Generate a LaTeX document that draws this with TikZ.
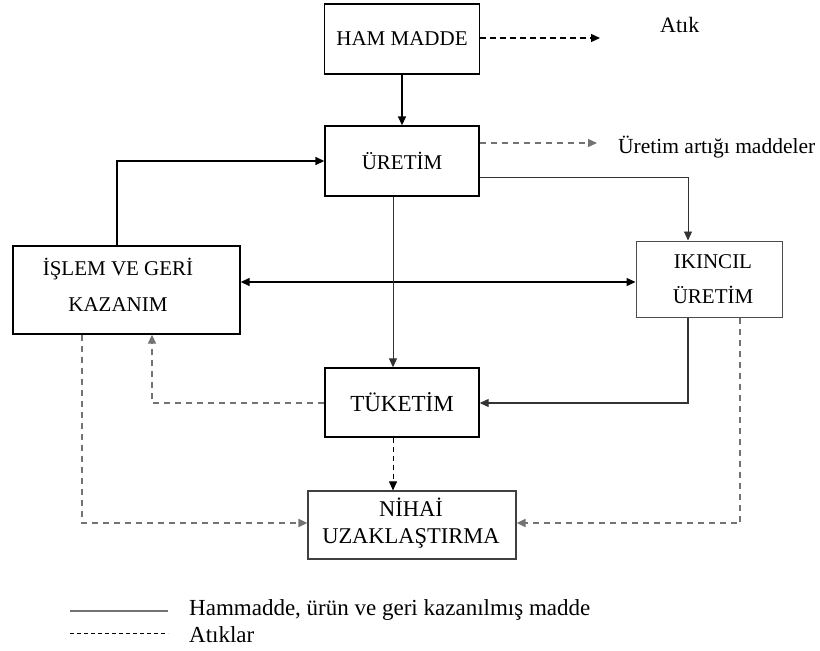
\documentclass[tikz,border=0pt]{standalone}
\usepackage{fontspec}
\setmainfont{Liberation Serif}
\usetikzlibrary{arrows.meta}
\tikzset{
  >={Triangle[length=9pt,width=8pt]},
  box/.style={draw=black, line width=1.4pt, fill=white, inner sep=0pt, align=center,
    font=\fontsize{21}{36}\selectfont},
  solid line/.style={draw=black, line width=1.4pt, ->},
  thin line/.style={draw=black!80, line width=0.9pt, ->},
  waste/.style={draw=black, line width=1.4pt, dash pattern=on 6pt off 4pt, ->},
  greywaste/.style={draw=black!55, line width=1.8pt, dash pattern=on 6pt off 5pt, ->},
  lbl/.style={font=\fontsize{22}{24}\selectfont, inner sep=0pt, anchor=base west}
}
\begin{document}
\begin{tikzpicture}[x=1pt,y=-1pt]
\useasboundingbox (0,0) rectangle (820,651);
\node[box, minimum width=155pt, minimum height=70pt] (ham) at (402,39) {HAM MADDE};
\node[box, minimum width=154pt, minimum height=70pt] (uretim) at (402,161) {ÜRETİM};
\node[box, minimum width=227pt, minimum height=88pt] (islem) at (126.5,290) {};
\node[box, draw=none, fill=none, font=\fontsize{21}{36}\selectfont] (islemtxt) at (118,285) {İŞLEM VE GERİ\\KAZANIM};
\node[box, minimum width=146pt, minimum height=76pt, draw=black!70, line width=1pt] (ikincil) at (709,279) {};
\node[box, draw=none, fill=none, font=\fontsize{21}{35}\selectfont] (ikinciltxt) at (713,279) {IKINCIL\\ÜRETİM};
\node[box, minimum width=154pt, minimum height=69pt, font=\fontsize{23}{28}\selectfont] (tuketim) at (402,402.5) {TÜKETİM};
\node[box, minimum width=208pt, minimum height=68pt, draw=black!75, line width=1.2pt] (nihai) at (412,525) {};
\node[box, draw=none, fill=none, font=\fontsize{22.5}{27}\selectfont] (nihaitxt) at (411,523) {NİHAİ\\UZAKLAŞTIRMA};

\coordinate (atikend) at (600,38);
\coordinate (uartend) at (597,143);
\node[lbl] (atik) at (660,32) {Atık};
\node[lbl, font=\fontsize{21.5}{24}\selectfont] (uart) at (618,153) {Üretim artığı maddeler};

\draw[waste] (ham.east |- atikend) -- (atikend);
\draw[greywaste, line width=1.3pt] (uretim.east |- uartend) -- (uartend);
\draw[solid line] (ham.south) -- (uretim.north);
\draw[thin line] (uretim.east |- 0,177) -| (ikincil.north -| 688,0);
\draw[solid line] (islem.north -| 117,0) |- (uretim.west |- 0,161);
\draw[solid line, <->] (islem.east |- 0,282) -- (ikincil.west |- 0,282);
\draw[thin line] (uretim.south -| 393,0) -- (tuketim.north -| 393,0);
\draw[thin line, line width=1.2pt] (ikincil.south -| 688,0) |- (tuketim.east |- 0,403);
\draw[greywaste] (tuketim.west |- 0,403) -| (islem.south -| 152,0);
\draw[waste, line width=1pt, dash pattern=on 5pt off 4pt] (tuketim.south -| 393,0) -- (nihai.north -| 393,0);
\draw[greywaste] (ikincil.south -| 740,0) |- (nihai.east |- 0,523);
\draw[greywaste] (islem.south -| 82,0) |- (nihai.west |- 0,523);

\coordinate (l1a) at (70,611);
\coordinate (l1b) at (168,611);
\coordinate (l2a) at (70,633);
\coordinate (l2b) at (168,633);
\draw[draw=black!55, line width=1.3pt] (l1a) -- (l1b);
\draw[draw=black, line width=1pt, dash pattern=on 4pt off 3pt] (l2a) -- (l2b);
\node[lbl, font=\fontsize{23}{24}\selectfont] (leg1) at (189,615) {Hammadde, ürün ve geri kazanılmış madde};
\node[lbl, font=\fontsize{23}{24}\selectfont] (leg2) at (189,642) {Atıklar};
\end{tikzpicture}
\end{document}
